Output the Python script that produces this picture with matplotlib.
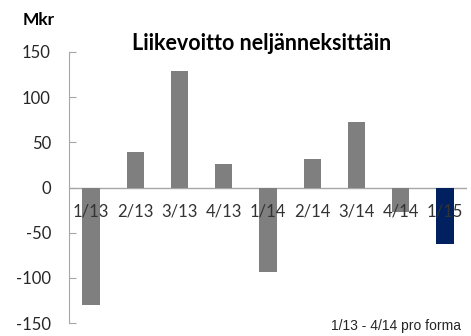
import matplotlib
matplotlib.use("Agg")
import matplotlib.pyplot as plt

# operating profit by quarter, MSEK
quarters = ["1/13", "2/13", "3/13", "4/13", "1/14", "2/14", "3/14", "4/14", "1/15"]
profit = [-130, 39, 129, 26, -93, 31, 72, -27, -63]
yticks = [150, 100, 50, 0, -50, -100, -150]

GREY = "#7f7f7f"
NAVY = "#002060"
colors = [GREY] * (len(quarters) - 1) + [NAVY]

plt.rcParams["font.family"] = ["Lato", "DejaVu Sans"]

fig = plt.figure(figsize=(4.71, 3.36), dpi=100)
ax = fig.add_axes([69 / 471, 13 / 336, 398 / 471, 271 / 336])

x = range(len(quarters))
ax.bar(x, profit, width=0.39, color=colors, zorder=2)
ax.axhline(0, color="#a6a6a6", lw=1, zorder=1)

ax.set_xlim(-0.5, len(quarters) - 0.5)
ax.set_ylim(-150, 150)
ax.set_yticks(yticks)
ax.set_yticklabels([str(v) for v in yticks], fontsize=12, color="#262626")
ax.tick_params(axis="y", direction="in", length=5, color="#a6a6a6", pad=13)
ax.set_xticks([])
for i, q in enumerate(quarters):
    ax.text(i, -27, q, ha="center", va="center", fontsize=12,
            color="#333333", zorder=3)

for s in ["top", "right", "bottom"]:
    ax.spines[s].set_visible(False)
ax.spines["left"].set_color("#a6a6a6")

fig.text(23 / 471, 1 - 20 / 336, "Mkr", fontsize=12.5, fontweight="bold",
         va="center", ha="left")
fig.text(262 / 471, 1 - 43 / 336, "Liikevoitto neljänneksittäin",
         fontsize=15.5, fontweight="bold", ha="center", va="center")
fig.text(461 / 471, 1 - 326 / 336, "1/13 - 4/14 pro forma",
         fontsize=10, family="Liberation Sans", color="#262626",
         ha="right", va="center")

fig.savefig("out.png", dpi=100)
